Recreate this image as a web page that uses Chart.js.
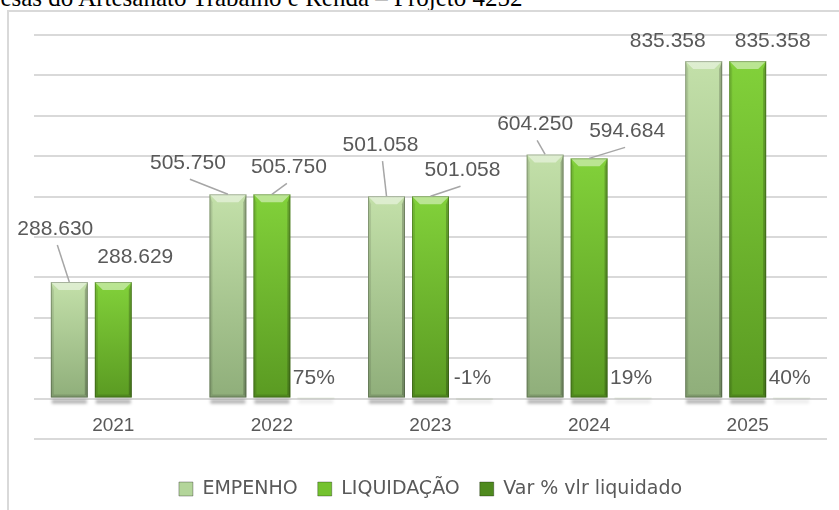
<!DOCTYPE html>
<html><head><meta charset="utf-8">
<script src="https://cdn.jsdelivr.net/npm/chart.js@4/dist/chart.umd.min.js"></script>
<style>
html,body{margin:0;padding:0;background:#fff;}
#wrap{position:relative;width:839px;height:510px;overflow:hidden;background:#fff;}
#title{position:absolute;left:-51px;top:-15.5px;font-family:"Liberation Serif","Times New Roman",serif;font-size:25px;line-height:1;color:#000;white-space:nowrap;}
#frame{position:absolute;left:7px;top:10px;width:900px;height:600px;border:2px solid #d9d9d9;box-sizing:border-box;}
canvas{position:absolute;left:0;top:0;}
</style></head><body>
<div id="wrap">
<div id="title">Despesas do Artesanato Trabalho e Renda – Projeto 4252</div>
<div id="frame"></div>
<canvas id="c" width="839" height="510"></canvas>
</div>
<script>
// ---- data ----
const categories = ['2021', '2022', '2023', '2024', '2025'];
const empenho = [288630, 505750, 501058, 604250, 835358];
const liquidacao = [288629, 505750, 501058, 594684, 835358];
const varLiquidado = [null, 0.75, -0.01, 0.19, 0.40];
const seriesNames = ['EMPENHO', 'LIQUIDAÇÃO', 'Var % vlr liquidado'];
const yMin = -100000, yMax = 900000, yStep = 100000;

// ---- label placement (offset from bar top, px) ----
const empenhoLabelOffsets = [[-14, -53], [-40, -31], [-6, -51], [-10, -30], [-36, -20]];
const liquidacaoLabelOffsets = [[22, -25], [17, -27], [32, -26], [38, -27], [25, -20]];
const empenhoLeader = [true, true, true, true, false];
const liquidacaoLeader = [false, true, true, true, false];

const TXT = '#595959';
const NUMFONT = '"Liberation Sans", Arial, sans-serif';

function fmt(v) { return String(Math.round(v)).replace(/\B(?=(\d{3})+(?!\d))/g, '.'); }
function fmtPct(v) { return Math.round(v * 100) + '%'; }

function barGradient(top, bottom) {
  return function (c) {
    const chart = c.chart;
    if (!chart.chartArea || c.type !== 'data' || c.raw == null || !chart.scales.y) return top;
    const y = chart.scales.y;
    const y0 = y.getPixelForValue(c.raw), y1 = y.getPixelForValue(0);
    if (!isFinite(y0) || !isFinite(y1) || y0 === y1) return top;
    const g = chart.ctx.createLinearGradient(0, y0, 0, y1);
    g.addColorStop(0, top); g.addColorStop(1, bottom);
    return g;
  };
}

const legendColors = ['#b3d59a', '#74c22f', '#4f8a1f'];

const decor = {
  id: 'decor',
  beforeDatasetsDraw(chart) {
    const ctx = chart.ctx;
    const base = chart.scales.y.getPixelForValue(0);
    ctx.save();
    ctx.filter = 'blur(1.5px)';
    chart.data.datasets.forEach((ds, i) => {
      chart.getDatasetMeta(i).data.forEach((bar, j) => {
        if (ds.data[j] == null) return;
        ctx.fillStyle = i < 2 ? 'rgba(0,0,0,0.30)' : 'rgba(0,0,0,0.07)';
        ctx.fillRect(bar.x - bar.width / 2 + 1, base + 1, bar.width - 2, 4);
      });
    });
    ctx.restore();
  },
  afterDatasetsDraw(chart) {
    const ctx = chart.ctx;
    const base = chart.scales.y.getPixelForValue(0);
    ctx.save();
    // bevel effect on the two value series
    [0, 1].forEach(i => {
      chart.getDatasetMeta(i).data.forEach(bar => {
        const l = bar.x - bar.width / 2, r = bar.x + bar.width / 2, t = bar.y, b = bar.base;
        const s = 8, e = 3;
        ctx.fillStyle = 'rgba(255,255,255,0.45)';
        ctx.beginPath(); ctx.moveTo(l, t); ctx.lineTo(r, t); ctx.lineTo(r - s, t + s); ctx.lineTo(l + s, t + s); ctx.closePath(); ctx.fill();
        ctx.fillStyle = 'rgba(0,0,0,0.10)';
        ctx.beginPath(); ctx.moveTo(l, t); ctx.lineTo(l + e, t + s); ctx.lineTo(l + e, b - e); ctx.lineTo(l, b); ctx.closePath(); ctx.fill();
        ctx.fillStyle = 'rgba(0,0,0,0.22)';
        ctx.beginPath(); ctx.moveTo(r, t); ctx.lineTo(r - e, t + s); ctx.lineTo(r - e, b - e); ctx.lineTo(r, b); ctx.closePath(); ctx.fill();
        ctx.fillStyle = 'rgba(0,0,0,0.12)';
        ctx.beginPath(); ctx.moveTo(l, b); ctx.lineTo(l + e, b - e); ctx.lineTo(r - e, b - e); ctx.lineTo(r, b); ctx.closePath(); ctx.fill();
        ctx.strokeStyle = 'rgba(0,0,0,0.25)'; ctx.lineWidth = 1;
        ctx.strokeRect(l + 0.5, t + 0.5, bar.width - 1, b - t - 1);
      });
    });
    // value labels with leader lines
    ctx.font = '21px ' + NUMFONT;
    ctx.textAlign = 'center'; ctx.textBaseline = 'middle';
    const sets = [[0, empenho, empenhoLabelOffsets, empenhoLeader], [1, liquidacao, liquidacaoLabelOffsets, liquidacaoLeader]];
    sets.forEach(([i, vals, offs, lead]) => {
      chart.getDatasetMeta(i).data.forEach((bar, j) => {
        const lx = bar.x + offs[j][0], ly = bar.y + offs[j][1];
        if (lead[j]) {
          ctx.strokeStyle = '#a6a6a6'; ctx.lineWidth = 1.5;
          ctx.beginPath();
          ctx.moveTo(lx + Math.sign(bar.x - lx) * 2, ly + 16);
          ctx.lineTo(bar.x, bar.y);
          ctx.stroke();
        }
        ctx.fillStyle = TXT;
        ctx.fillText(fmt(vals[j]), lx, ly);
      });
    });
    // percentage labels
    chart.getDatasetMeta(2).data.forEach((bar, j) => {
      if (varLiquidado[j] == null) return;
      ctx.fillStyle = TXT;
      ctx.fillText(fmtPct(varLiquidado[j]), bar.x - 2, base - 20);
    });
    ctx.restore();
  }
};

new Chart(document.getElementById('c'), {
  type: 'bar',
  data: {
    labels: categories,
    datasets: [
      { label: seriesNames[0], data: empenho, backgroundColor: barGradient('#c3e0a9', '#8fae7a') },
      { label: seriesNames[1], data: liquidacao, backgroundColor: barGradient('#82d13a', '#5a9a22') },
      { label: seriesNames[2], data: varLiquidado, backgroundColor: 'rgba(79,138,31,0.12)' }
    ]
  },
  options: {
    responsive: false,
    animation: false,
    devicePixelRatio: 1,
    categoryPercentage: 0.832,
    barPercentage: 0.84,
    layout: { padding: { left: 34, right: 12, top: 35, bottom: 1.5 } },
    plugins: {
      tooltip: { enabled: false },
      legend: {
        position: 'bottom',
        title: { display: true, text: ' ', font: { size: 1 }, padding: { top: 19.3, bottom: 0 } },
        labels: {
          font: { family: '"DejaVu Sans", sans-serif', size: 19 },
          color: TXT,
          boxWidth: 14, boxHeight: 14,
          padding: 20,
          generateLabels: (chart) => chart.data.datasets.map((ds, i) => ({
            text: ds.label, fillStyle: legendColors[i], strokeStyle: 'rgba(0,0,0,0.3)', lineWidth: 1,
            hidden: false, datasetIndex: i, fontColor: TXT
          }))
        }
      }
    },
    scales: {
      x: {
        position: { y: 0 },
        grid: { display: false, drawTicks: false },
        border: { display: false },
        ticks: { color: TXT, font: { family: NUMFONT, size: 19 }, padding: 16 }
      },
      y: {
        min: yMin, max: yMax,
        ticks: { display: false, stepSize: yStep },
        grid: { color: '#d9d9d9', lineWidth: 2, drawTicks: false },
        border: { display: false }
      }
    }
  },
  plugins: [decor]
});
</script>
</body></html>
